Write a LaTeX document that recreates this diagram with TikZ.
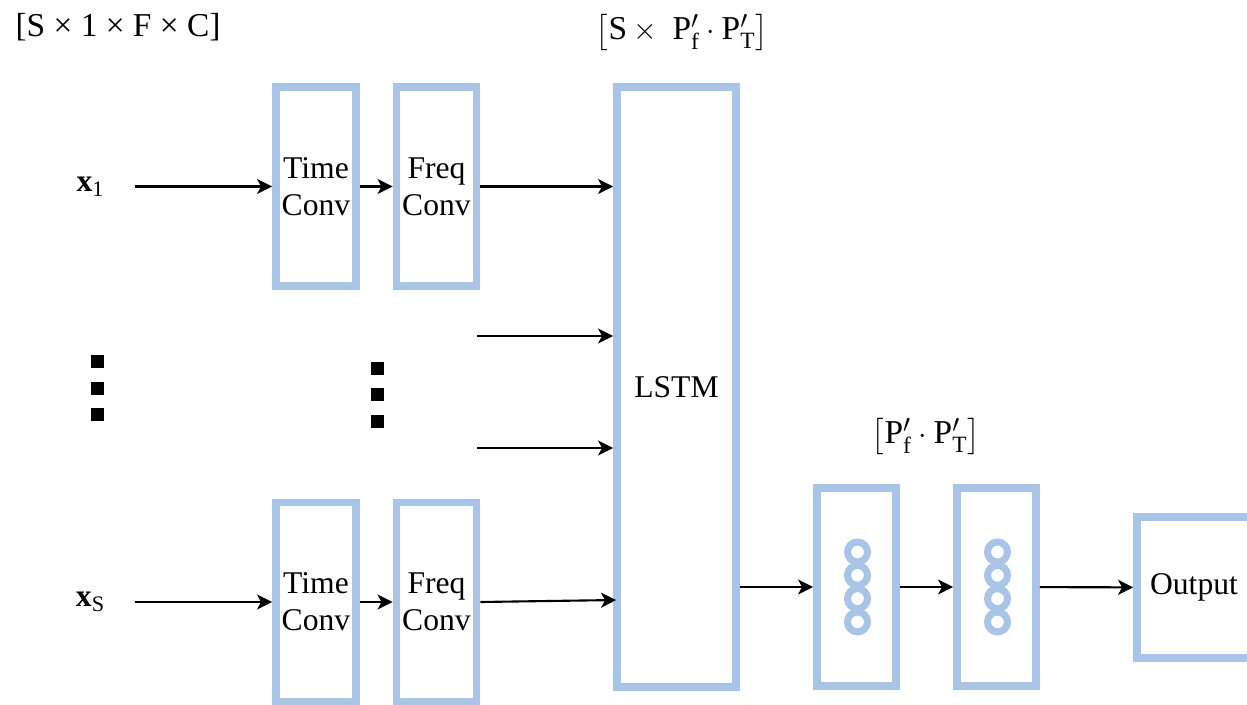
\documentclass[tikz,border=0pt]{standalone}
\usepackage{amsmath}
\usepackage{fontspec}
\setmainfont{Liberation Serif}
\usepackage{tikz}
\usetikzlibrary{positioning,arrows.meta,calc}
\definecolor{LayerBlue}{RGB}{168,196,230}
\tikzset{
  layer/.style={draw=LayerBlue,line width=4.5pt,minimum width=1.6cm,minimum height=3.98cm,
    inner sep=0pt,align=center,font=\fontsize{18}{21}\selectfont},
  flow/.style={-{Stealth[length=3mm,width=3mm,inset=0.8mm]},line width=1.2pt},
  unit/.style={draw=LayerBlue,line width=4pt},
  dotmark/.style={fill=black,minimum size=0.26cm,inner sep=0pt},
  inlabel/.style={inner xsep=0.6cm,font=\fontsize{18}{21}\selectfont},
  dimlabel/.style={inner sep=1pt,font=\fontsize{19}{22}\selectfont}
}
\newcommand{\convrow}[3]{%
    \node[inlabel] (x#1) at (90.5,#2) {#3};
    \node[layer] (time#1) at (316,#2) {Time\\Conv};
    \node[layer] (freq#1) at (436.5,#2) {Freq\\Conv};
    \draw[flow] (x#1) -- (time#1);
    \draw[flow] (time#1) -- (freq#1);
}

\begin{document}
\begin{tikzpicture}[x=0.02cm,y=-0.02cm]
    \path[use as bounding box,clip] (0,0) rectangle (1247,704);
    % input rows
    \convrow{1}{186.5}{$\mathbf{x}_{\mathrm{1}}$}
    \convrow{S}{602}{$\mathbf{x}_{\mathrm{S}}$}
    \foreach \y in {361,388,414} \node[dotmark] (dl\y) at (97,\y) {};
    \foreach \y in {368,394,421} \node[dotmark] (dm\y) at (377,\y) {};
    % recurrent part
    \node[layer,minimum width=2.38cm,minimum height=12cm] (lstm) at (676.5,387) {LSTM};
    \coordinate (mid1) at (477,336);
    \coordinate (mid2) at (477,448);
    \draw[flow] (freq1) -- (freq1 -| lstm.west);
    \draw[flow] (mid1) -- (mid1 -| lstm.west);
    \draw[flow] (mid2) -- (mid2 -| lstm.west);
    \draw[flow] (freqS.east) -- ($(lstm.west)+(3,213)$);
    % dense layers
    \node[layer,minimum width=1.58cm,minimum height=3.96cm] (fc1) at (856.5,587) {};
    \node[layer,minimum width=1.58cm,minimum height=3.96cm] (fc2) at (996.5,587) {};
    \foreach \fc in {fc1,fc2}
        \foreach \k in {0,...,3}
            \draw[unit] ($(\fc)+(1,-35+23.3*\k)$) circle[radius=0.2cm];
    \node[layer,minimum width=2.28cm,minimum height=2.82cm] (out) at (1194,587.5) {Output};
    \draw[flow] (lstm.east |- fc1) -- (fc1);
    \draw[flow] (fc1) -- (fc2);
    \draw[flow] (fc2) -- (out);
    % shapes
    \node[dimlabel] (inshape) at (118,27) {[S × 1 × F × C]};
    \node[dimlabel] (seqshape) at (682,32) {$\bigl[\mathrm{S}\times\ \mathrm{P}'_{\mathrm{f}}\cdot\mathrm{P}'_{\mathrm{T}}\bigr]$};
    \node[dimlabel] (fcshape) at (926,436) {$\bigl[\mathrm{P}'_{\mathrm{f}}\cdot\mathrm{P}'_{\mathrm{T}}\bigr]$};
\end{tikzpicture}
\end{document}
